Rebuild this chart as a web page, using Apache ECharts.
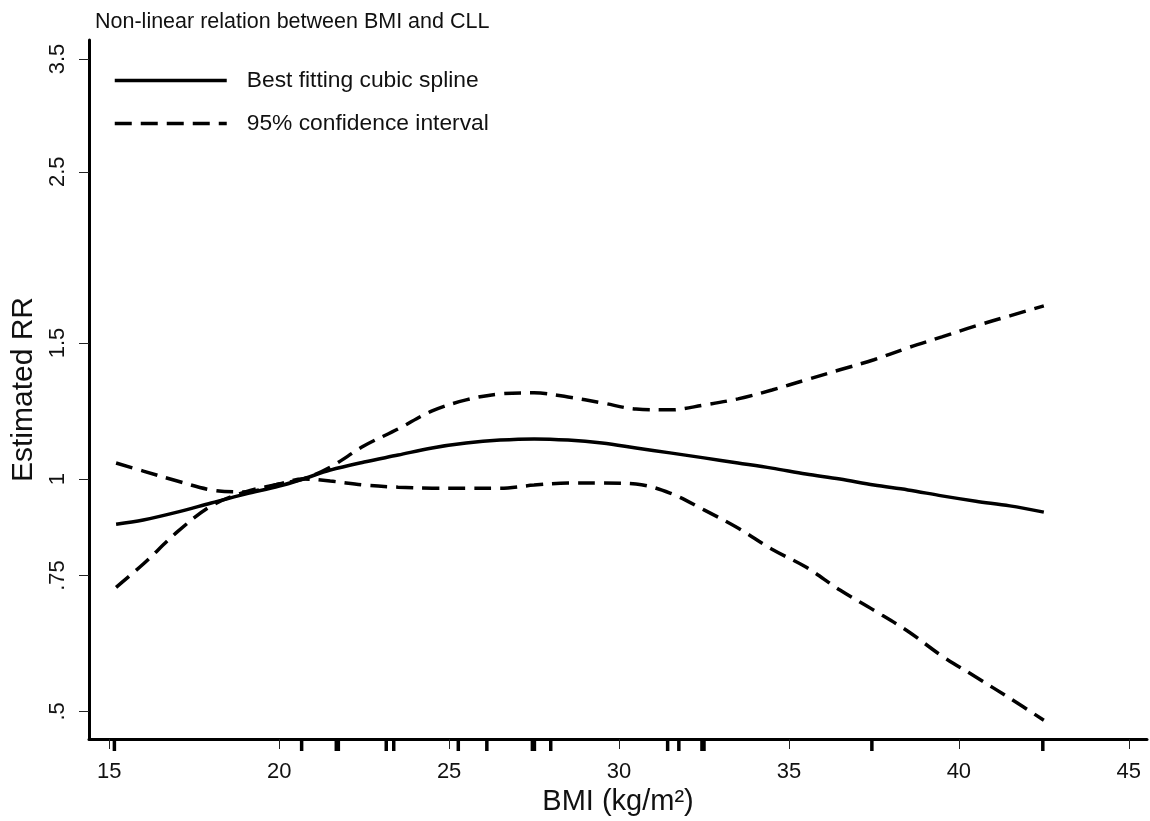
<!DOCTYPE html>
<html>
<head>
<meta charset="utf-8">
<script src="https://cdn.jsdelivr.net/npm/echarts@6/dist/echarts.min.js"></script>
<style>
  html, body { margin: 0; padding: 0; background: #fff; }
  #main { width: 1150px; height: 821px; }
</style>
</head>
<body>
<div id="main"></div>
<script>
// BMI grid and estimated RR
var bmi = [15.2, 16, 17, 18, 19, 20, 20.7, 21.5, 22.5, 23.5, 24.5, 25.5, 26.5, 27.5, 28.5, 29.5,
           30.5, 31.5, 32.5, 33.5, 34.5, 35.5, 36.5, 37.5, 38.5, 39.5, 40.5, 41.5, 42.5];
var rrFit = [0.874, 0.885, 0.906, 0.931, 0.956, 0.979, 1.000, 1.027, 1.052, 1.074, 1.097, 1.113, 1.123, 1.127, 1.123, 1.113,
             1.097, 1.081, 1.065, 1.049, 1.033, 1.015, 1.000, 0.982, 0.968, 0.951, 0.936, 0.923, 0.906];
var rrUpper = [0.724, 0.776, 0.854, 0.923, 0.962, 0.985, 1.000, 1.036, 1.104, 1.161, 1.225, 1.266, 1.289, 1.293, 1.277, 1.255,
               1.232, 1.229, 1.247, 1.270, 1.304, 1.344, 1.385, 1.427, 1.479, 1.528, 1.579, 1.627, 1.676];
var rrLower = [1.049, 1.024, 0.994, 0.968, 0.962, 0.985, 1.000, 0.994, 0.982, 0.976, 0.973, 0.973, 0.973, 0.982, 0.988, 0.988,
               0.985, 0.959, 0.912, 0.864, 0.811, 0.769, 0.718, 0.676, 0.635, 0.590, 0.554, 0.520, 0.487];
// rug marks on the x axis
var rugBmi = [15.15, 20.66, 21.68, 21.74, 23.15, 23.37, 25.27, 26.11, 27.45, 27.51, 27.99, 31.43, 31.76, 32.44, 32.5, 37.44, 42.47];
var xTicks = [15, 20, 25, 30, 35, 40, 45];
var yTicksRR = [0.5, 0.75, 1, 1.5, 2.5, 3.5];

var FONT = 'Liberation Sans, Arial, sans-serif';
var yMin = -0.7754, yMax = 1.3093;   // ln(RR) range of the plot area

function toLog(arr) {
    return bmi.map(function (b, i) { return [b, Math.log(arr[i])]; });
}

var myChart = echarts.init(document.getElementById('main'));

var dashed = { color: '#000', width: 3.5, type: [17, 9], cap: 'butt' };

var option = {
    backgroundColor: '#fff',
    animation: false,
    title: {
        text: 'Non-linear relation between BMI and CLL',
        left: 95, top: 11, padding: 0,
        textStyle: { fontFamily: FONT, fontSize: 21.5, fontWeight: 'normal', color: '#111' }
    },
    legend: {
        orient: 'vertical',
        left: 113, top: 69,
        padding: 0,
        itemWidth: 112, itemHeight: 22, itemGap: 20,
        data: ['Best fitting cubic spline', '95% confidence interval'],
        itemStyle: { opacity: 0 },
        lineStyle: { width: 3.5 },
        textStyle: { fontFamily: FONT, fontSize: 22.8, color: '#111', lineHeight: 22, padding: [0, 0, 0, 15] }
    },
    grid: { left: 89, right: 3, top: 40, bottom: 82, outerBoundsMode: 'none' },
    xAxis: {
        type: 'value',
        min: 14.403, max: 45.536,
        name: 'BMI (kg/m\u00b2)',
        nameLocation: 'middle', nameGap: 46,
        nameTextStyle: { fontFamily: FONT, fontSize: 29, color: '#111' },
        axisLine: { show: true, onZero: false, lineStyle: { color: '#000', width: 3 } },
        axisTick: { show: true, length: 10, customValues: xTicks, lineStyle: { color: '#222', width: 1 } },
        axisLabel: { customValues: xTicks, margin: 22, fontFamily: FONT, fontSize: 22, color: '#111' },
        splitLine: { show: false }
    },
    yAxis: {
        type: 'value',
        min: yMin, max: yMax,
        name: 'Estimated RR',
        nameLocation: 'middle', nameGap: 47,
        nameTextStyle: { fontFamily: FONT, fontSize: 30, color: '#111' },
        axisLine: { show: true, onZero: false, lineStyle: { color: '#000', width: 3 } },
        axisTick: { show: true, length: 10, customValues: yTicksRR.map(Math.log), lineStyle: { color: '#222', width: 1 } },
        axisLabel: {
            customValues: yTicksRR.map(Math.log),
            rotate: 90, margin: 20,
            fontFamily: FONT, fontSize: 22, color: '#111',
            formatter: function (v) {
                var r = Math.round(Math.exp(v) * 100) / 100;
                return String(r).replace(/^0\./, '.');
            }
        },
        splitLine: { show: false }
    },
    series: [
        {
            name: 'Best fitting cubic spline',
            type: 'line',
            data: toLog(rrFit),
            smooth: 0.35,
            symbol: 'none',
            lineStyle: { color: '#000', width: 3.5 },
            itemStyle: { color: '#000' }
        },
        {
            name: '95% confidence interval',
            type: 'line',
            data: toLog(rrUpper),
            smooth: 0.35,
            symbol: 'none',
            lineStyle: dashed,
            itemStyle: { color: '#000' }
        },
        {
            name: '95% confidence interval',
            type: 'line',
            data: toLog(rrLower),
            smooth: 0.35,
            symbol: 'none',
            lineStyle: dashed,
            itemStyle: { color: '#000' }
        },
        {
            // rug ticks below the x axis
            type: 'custom',
            clip: false,
            silent: true,
            data: rugBmi.map(function (b) { return [b, yMin]; }),
            renderItem: function (params, api) {
                var p = api.coord([api.value(0), api.value(1)]);
                return {
                    type: 'line',
                    shape: { x1: p[0], y1: p[1] + 1, x2: p[0], y2: p[1] + 12 },
                    style: { stroke: '#000', lineWidth: 3.5 }
                };
            }
        }
    ]
};

myChart.setOption(option);
</script>
</body>
</html>
